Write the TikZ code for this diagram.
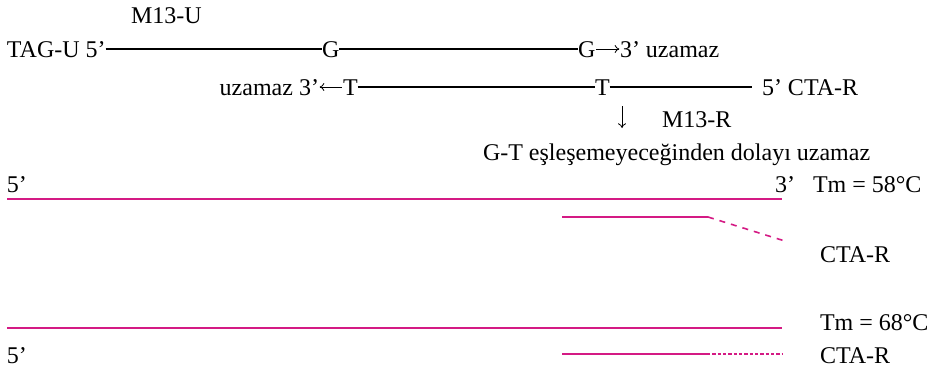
\documentclass[tikz,border=0pt]{standalone}
\usepackage{fontspec}
\setmainfont{Liberation Serif}
\usetikzlibrary{calc}
\definecolor{pinkline}{RGB}{212,26,132}
\tikzset{
  txt/.style={inner sep=0pt, outer sep=0pt, anchor=base west, font=\fontsize{18}{20}\selectfont},
  strand/.style={line width=0.8pt, black},
  txtarrow/.style={line width=0.6pt, black, -{To[length=3.5pt,width=6pt]}},
  pinkstrand/.style={line width=1.2pt, pinkline},
  pinkdash/.style={line width=1.2pt, pinkline, dash pattern=on 4.5pt off 4.5pt},
  pinkdot/.style={line width=1.2pt, pinkline, dash pattern=on 2.4pt off 1.6pt},
}
\usetikzlibrary{arrows.meta}
\begin{document}
\begin{tikzpicture}[x=0.75pt, y=-0.75pt]
\useasboundingbox (0,0) rectangle (936,371);
% row 0
\node[txt] (m13u) at (131,23) {M13-U};
% row 1
\node[txt] (tag) at (7,57) {TAG-U 5’};
\node[txt] (g1) at (322,57) {G};
\node[txt] (g2) at (578,57) {G};
\node[txt] (u1) at (620,57) {3’ uzamaz};
\draw[strand] ([yshift=6pt]tag.base east) -- ([yshift=6pt]g1.base west);
\draw[strand] ([yshift=6pt]g1.base east) -- ([yshift=6pt]g2.base west);
\draw[txtarrow] ([xshift=0.5pt,yshift=6pt]g2.base east) -- ([xshift=-0.5pt,yshift=6pt]u1.base west);
% row 2
\node[txt] (t1) at (343,95) {T};
\node[txt, anchor=base east] (u2) at (319,95) {uzamaz 3’};
\node[txt] (t2) at (595,95) {T};
\node[txt] (r2) at (762,95) {5’ CTA-R};
\coordinate (e2) at (752,95);
\draw[txtarrow] ([xshift=-1pt,yshift=6pt]t1.base west) -- ([xshift=0.5pt,yshift=6pt]u2.base east);
\draw[strand] ([yshift=6pt]t1.base east) -- ([yshift=6pt]t2.base west);
\draw[strand] ([yshift=6pt]t2.base east) -- ([yshift=6pt]e2);
% row 3
\coordinate (dtop) at (622,106);
\coordinate (dbot) at (622,128);
\draw[txtarrow] (dtop) -- (dbot);
\node[txt] (m13r) at (662,127) {M13-R};
\node[txt] (gt) at (483,160) {G-T eşleşemeyeceğinden dolayı uzamaz};
% Tm 58
\node[txt] (f1) at (7,192) {5’};
\node[txt] (th1) at (775,192) {3’};
\node[txt] (tm1) at (813,192) {Tm = 58°C};
\coordinate (a1) at (7,199);
\coordinate (b1) at (782,199);
\draw[pinkstrand] (a1) -- (b1);
\coordinate (c1) at (562,217);
\coordinate (d1) at (708,217);
\coordinate (e1) at (788,242);
\draw[pinkstrand] (c1) -- (d1);
\draw[pinkdash] (d1) -- (e1);
\node[txt] (cta1) at (820,262) {CTA-R};
% Tm 68
\node[txt] (tm2) at (820,330) {Tm = 68°C};
\coordinate (a2) at (7,328);
\coordinate (b2) at (782,328);
\draw[pinkstrand] (a2) -- (b2);
\node[txt] (f2) at (7,363) {5’};
\coordinate (c2) at (562,354);
\coordinate (d2) at (707,354);
\coordinate (e2b) at (782,354);
\draw[pinkstrand] (c2) -- (d2);
\draw[pinkdot] (d2) -- (e2b);
\node[txt] (cta2) at (820,363) {CTA-R};
\end{tikzpicture}
\end{document}
